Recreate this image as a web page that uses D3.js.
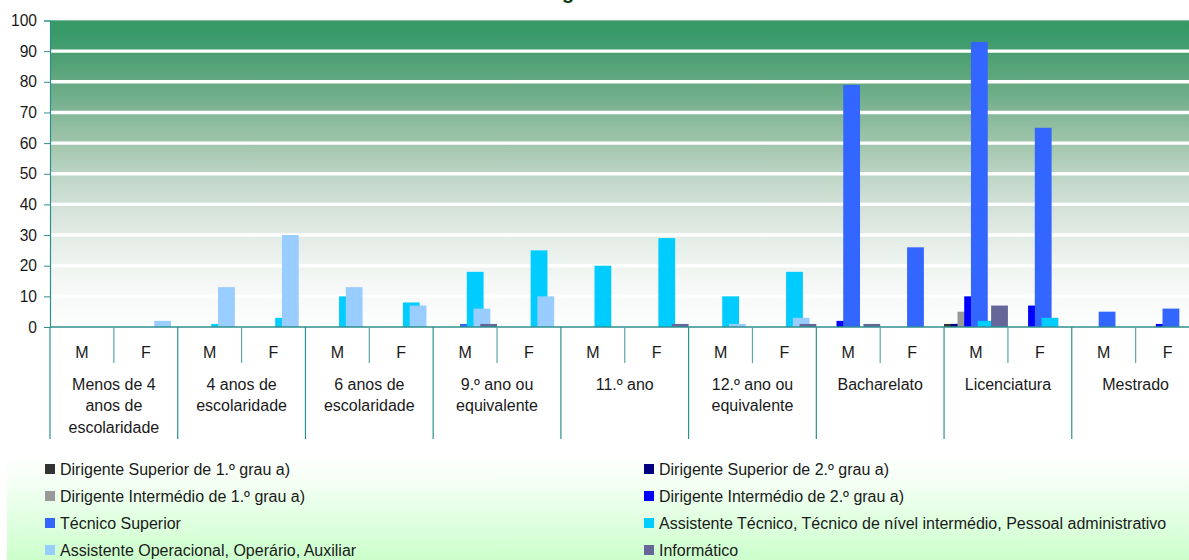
<!DOCTYPE html>
<html>
<head>
<meta charset="utf-8">
<script src="https://cdn.jsdelivr.net/npm/d3@7"></script>
<style>
  html, body { margin: 0; padding: 0; background: #ffffff; }
  svg { display: block; font-family: "Liberation Sans", Arial, sans-serif; }
</style>
</head>
<body>
<svg id="chart" width="1189" height="560"></svg>
<script>
// Education levels (each entry split into the lines shown under the axis)
const levels = [
  ["Menos de 4", "anos de", "escolaridade"],
  ["4 anos de", "escolaridade"],
  ["6 anos de", "escolaridade"],
  ["9.º ano ou", "equivalente"],
  ["11.º ano"],
  ["12.º ano ou", "equivalente"],
  ["Bacharelato"],
  ["Licenciatura"],
  ["Mestrado"]
];
const sexes = ["M", "F"];

const seriesNames = [
  "Dirigente Superior de 1.º grau a)",
  "Dirigente Superior de 2.º grau a)",
  "Dirigente Intermédio de 1.º grau a)",
  "Dirigente Intermédio de 2.º grau a)",
  "Técnico Superior",
  "Assistente Técnico, Técnico de nível intermédio, Pessoal administrativo",
  "Assistente Operacional, Operário, Auxiliar",
  "Informático"
];
const seriesColors = ["#333333", "#000080", "#999999", "#0000ff", "#3366ff", "#00ccff", "#99ccff", "#666699"];

// Values per series, one per level × sex (M, F, M, F, ...)
const dirigenteSup1 = [0,0, 0,0, 0,0, 0,0, 0,0, 0,0, 0,0, 1,0, 0,0];
const dirigenteSup2 = [0,0, 0,0, 0,0, 0,0, 0,0, 0,0, 0,0, 1,0, 0,0];
const dirigenteInt1 = [0,0, 0,0, 0,0, 0,0, 0,0, 0,0, 0,0, 5,0, 0,0];
const dirigenteInt2 = [0,0, 0,0, 0,0, 0,0, 0,0, 0,0, 2,0, 10,7, 0,1];
const tecnicoSup    = [0,0, 0,0, 0,0, 1,0, 0,0, 0,0, 79,26, 93,65, 5,6];
const assistTecnico = [0,0, 1,3, 10,8, 18,25, 20,29, 10,18, 0,0, 2,3, 0,0];
const assistOperac  = [0,2, 13,30, 13,7, 6,10, 0,0, 1,3, 0,0, 0,0, 0,0];
const informatico   = [0,0, 0,0, 0,0, 1,0, 0,1, 0,1, 1,0, 7,0, 0,0];
const seriesValues = [dirigenteSup1, dirigenteSup2, dirigenteInt1, dirigenteInt2,
                      tecnicoSup, assistTecnico, assistOperac, informatico];

const yTicks = [0, 10, 20, 30, 40, 50, 60, 70, 80, 90, 100];

const svg = d3.select("#chart");
const W = 1189, H = 560;
const plot = { left: 50, right: 1199.5, top: 20.5, bottom: 327 };
const teal = "#2f8f8f";
const textColor = "#1a1a1a";
const fontSize = 16;

// slots: one per level × sex
const slots = [];
levels.forEach((lv, i) => sexes.forEach(s => slots.push({ level: i, sex: s, key: i + "-" + s })));

const x = d3.scaleBand().domain(slots.map(d => d.key)).range([plot.left, plot.right]).padding(0);
const barW = 16.8;
const inner = d3.scalePoint().domain(d3.range(seriesNames.length)).range([0, x.bandwidth() - barW]);
const y = d3.scaleLinear().domain([0, 100]).range([plot.bottom, plot.top]);

const defs = svg.append("defs");
const bg = defs.append("linearGradient").attr("id", "plotBg")
  .attr("x1", 0).attr("y1", 0).attr("x2", 0).attr("y2", 1);
[[0, "#379966"], [0.05, "#3a9a6a"], [0.15, "#56a378"], [0.25, "#72af8c"], [0.35, "#92bea1"],
 [0.45, "#aecdb8"], [0.55, "#c8dbcf"], [0.65, "#dbe6df"], [0.75, "#e9f0eb"], [0.85, "#f4f7f5"], [1, "#fdfefe"]]
  .forEach(([o, c]) => bg.append("stop").attr("offset", o).attr("stop-color", c));

const lg = defs.append("linearGradient").attr("id", "legendBg")
  .attr("x1", 0).attr("y1", 0).attr("x2", 0).attr("y2", 1);
[[0, "#ffffff"], [0.25, "#f4fff4"], [1, "#ccffcc"]]
  .forEach(([o, c]) => lg.append("stop").attr("offset", o).attr("stop-color", c));

// title, running off the top edge of the page
svg.append("text")
  .attr("x", 562).attr("y", -1.5)
  .attr("font-size", 20).attr("font-weight", "bold").attr("fill", "#0b3d14")
  .text("género");

// plot background
svg.append("rect")
  .attr("x", plot.left).attr("y", plot.top)
  .attr("width", plot.right - plot.left).attr("height", plot.bottom - plot.top)
  .attr("fill", "url(#plotBg)");
svg.append("line")
  .attr("x1", plot.left).attr("x2", plot.right).attr("y1", plot.top).attr("y2", plot.top)
  .attr("stroke", "#7fb79a").attr("stroke-width", 1);

// gridlines
svg.append("g").selectAll("line")
  .data(yTicks.filter(t => t > 0 && t < 100))
  .join("line")
  .attr("x1", plot.left).attr("x2", plot.right)
  .attr("y1", d => y(d)).attr("y2", d => y(d))
  .attr("stroke", "#ffffff").attr("stroke-width", 3.4);

// bars
seriesValues.forEach((vals, si) => {
  svg.append("g").selectAll("rect")
    .data(slots.map((s, i) => ({ slot: s, v: vals[i] })).filter(d => d.v > 0))
    .join("rect")
    .attr("x", d => x(d.slot.key) + inner(si))
    .attr("width", barW)
    .attr("y", d => y(d.v))
    .attr("height", d => y(0) - y(d.v))
    .attr("fill", seriesColors[si]);
});

// y axis
const yAxis = svg.append("g")
  .attr("transform", `translate(${plot.left},0)`)
  .call(d3.axisLeft(y).tickValues(yTicks).tickSize(6).tickPadding(7).tickFormat(d3.format("d")));
yAxis.select(".domain").attr("stroke", teal).attr("stroke-width", 1.2);
yAxis.selectAll(".tick line").attr("stroke", teal);
yAxis.selectAll(".tick text").attr("font-size", 15.6).attr("fill", textColor)
  .attr("font-family", "Liberation Sans, Arial, sans-serif");

// x axis baseline
svg.append("line")
  .attr("x1", plot.left).attr("x2", plot.right)
  .attr("y1", plot.bottom).attr("y2", plot.bottom)
  .attr("stroke", teal).attr("stroke-width", 1.5);

// separators below the axis
const boundaries = d3.range(slots.length + 1).map(i => plot.left + i * x.bandwidth());
svg.append("g").selectAll("line")
  .data(boundaries)
  .join("line")
  .attr("x1", d => d).attr("x2", d => d)
  .attr("y1", plot.bottom)
  .attr("y2", (d, i) => i % 2 === 0 ? 439 : 363)
  .attr("stroke", (d, i) => i % 2 === 0 ? teal : "#5aa8a8")
  .attr("stroke-width", 1.2);

// M / F labels
svg.append("g").selectAll("text")
  .data(slots)
  .join("text")
  .attr("x", d => x(d.key) + x.bandwidth() / 2)
  .attr("y", 357.5)
  .attr("text-anchor", "middle")
  .attr("font-size", fontSize).attr("fill", textColor)
  .text(d => d.sex);

// level labels
const lvG = svg.append("g").selectAll("text")
  .data(levels)
  .join("text")
  .attr("text-anchor", "middle")
  .attr("font-size", fontSize).attr("fill", textColor);
lvG.each(function (lines, i) {
  const cx = plot.left + (2 * i + 1) * x.bandwidth();
  d3.select(this).selectAll("tspan")
    .data(lines)
    .join("tspan")
    .attr("x", cx)
    .attr("y", (d, j) => 389.5 + j * 21.5)
    .text(d => d);
});

// legend
svg.append("rect")
  .attr("x", 7).attr("y", 455).attr("width", W).attr("height", H - 455)
  .attr("fill", "url(#legendBg)");
const legend = svg.append("g").selectAll("g")
  .data(seriesNames.map((n, i) => ({ name: n, color: seriesColors[i], i })))
  .join("g")
  .attr("transform", d => `translate(${d.i % 2 === 0 ? 45 : 644},${469 + Math.floor(d.i / 2) * 27})`);
legend.append("rect")
  .attr("x", 0).attr("y", -5).attr("width", 10).attr("height", 10)
  .attr("fill", d => d.color);
legend.append("text")
  .attr("x", 15).attr("y", 5.5)
  .attr("font-size", fontSize).attr("fill", textColor)
  .text(d => d.name);
</script>
</body>
</html>
